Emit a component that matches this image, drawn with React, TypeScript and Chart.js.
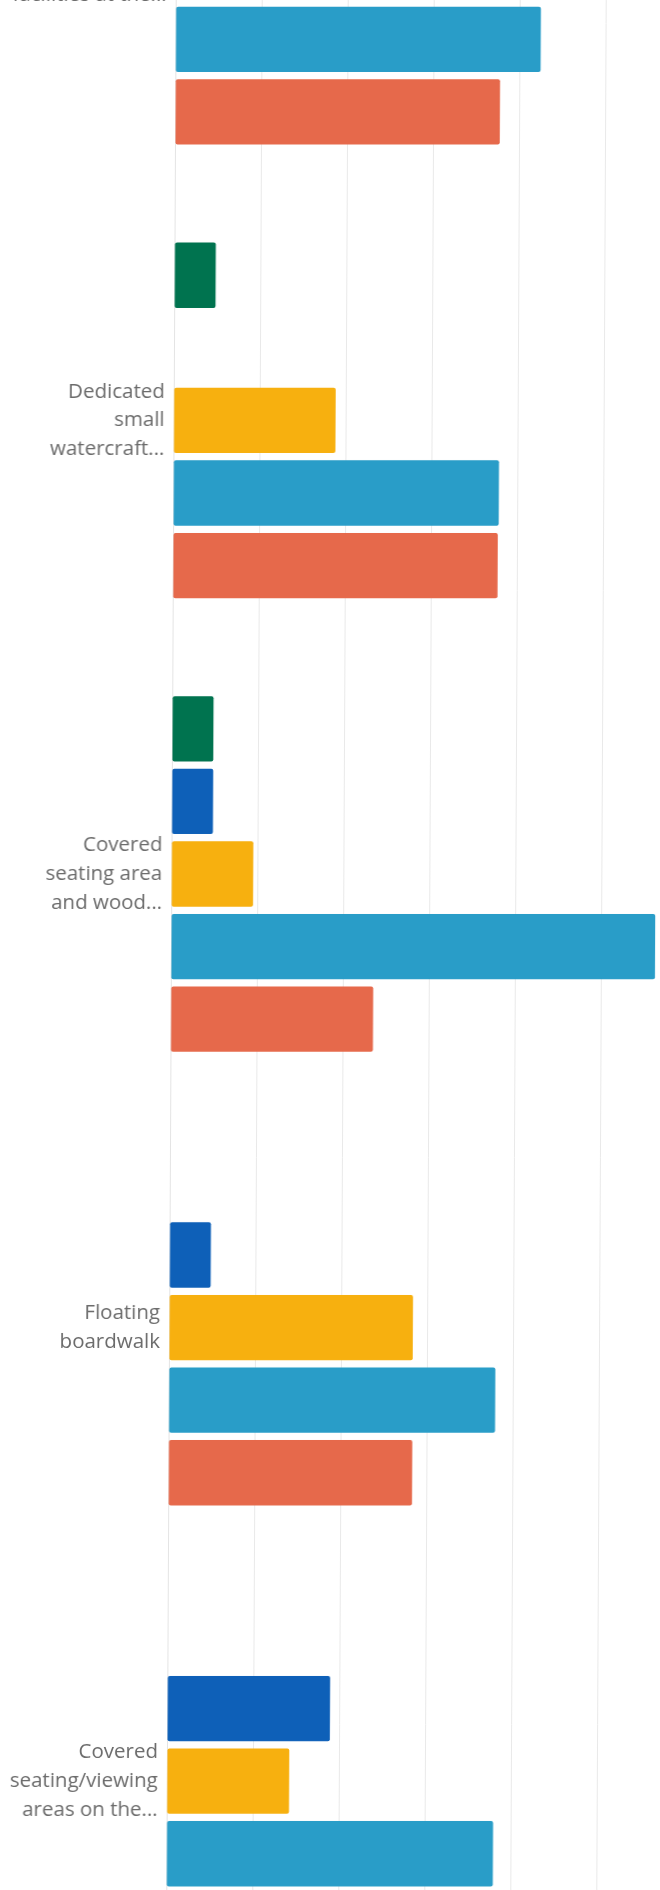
import React, { useEffect, useRef } from "react";
import { Chart, registerables } from "chart.js";

Chart.register(...registerables);

// Categories (multi-line labels as shown on the axis)
const categories: string[][] = [
  ["Public restrooms", "and changing", "facilities at the..."],
  ["Dedicated", "small", "watercraft..."],
  ["Covered", "seating area", "and wood..."],
  ["Floating", "boardwalk"],
  ["Covered", "seating/viewing", "areas on the..."],
];

// Series values (percent of respondents)
const seriesNames = ["Series A", "Series B", "Series C", "Series D", "Series E"];
const seriesA: (number | null)[] = [9.5, 4.8, 4.8, null, null];
const seriesB: (number | null)[] = [4.8, null, 4.8, 4.8, 18.9];
const seriesC: (number | null)[] = [null, 18.8, 9.5, 28.3, 14.2];
const seriesD: (number | null)[] = [42.4, 37.8, 56.2, 37.9, 37.9];
const seriesE: (number | null)[] = [37.7, 37.7, 23.5, 28.3, 33.3];

const colors = ["#00734f", "#0e60b8", "#f7b00f", "#299dc8", "#e6694b"];

const xMin = 0;
const xMax = 70;
const xStep = 10;

export default function App() {
  const canvasRef = useRef<HTMLCanvasElement | null>(null);

  useEffect(() => {
    if (!canvasRef.current) return;
    const values = [seriesA, seriesB, seriesC, seriesD, seriesE];
    const chart = new Chart(canvasRef.current, {
      type: "bar",
      data: {
        labels: categories,
        datasets: values.map((v, i) => ({
          label: seriesNames[i],
          data: v,
          backgroundColor: colors[i],
          borderWidth: 0,
          borderRadius: 2,
          borderSkipped: false,
          barPercentage: 0.9,
          categoryPercentage: 0.8,
        })),
      },
      options: {
        indexAxis: "y",
        animation: false,
        responsive: true,
        maintainAspectRatio: false,
        layout: { padding: 0 },
        plugins: {
          legend: { display: false },
          tooltip: { enabled: false },
          title: { display: false },
        },
        scales: {
          x: {
            min: xMin,
            max: xMax,
            ticks: { display: false, stepSize: xStep },
            grid: { color: "#e9e9e9", lineWidth: 1, drawTicks: false },
            border: { display: false },
            afterFit: (s: any) => {
              s.height = 0;
              s.paddingLeft = 0;
              s.paddingRight = 0;
            },
          },
          y: {
            grid: { display: false, drawTicks: false },
            border: { display: true, color: "#e4e4e4", width: 1 },
            ticks: {
              padding: 9,
              color: "#6b6b6b",
              font: { family: "'Open Sans', sans-serif", size: 20.5, lineHeight: 1.4 },
            },
            afterFit: (s: any) => {
              s.width = 171;
              s.paddingTop = 0;
              s.paddingBottom = 0;
            },
          },
        },
      },
    });
    return () => chart.destroy();
  }, []);

  return (
    <div
      style={{
        position: "fixed",
        left: 0,
        top: 0,
        width: 660,
        height: 1890,
        overflow: "hidden",
        background: "#ffffff",
      }}
    >
      <div
        style={{
          position: "absolute",
          left: 0,
          top: -260,
          width: 774,
          height: 2268,
          transform: "skewX(-0.286deg)",
          transformOrigin: "0px 1205px",
        }}
      >
        <canvas ref={canvasRef} />
      </div>
    </div>
  );
}
